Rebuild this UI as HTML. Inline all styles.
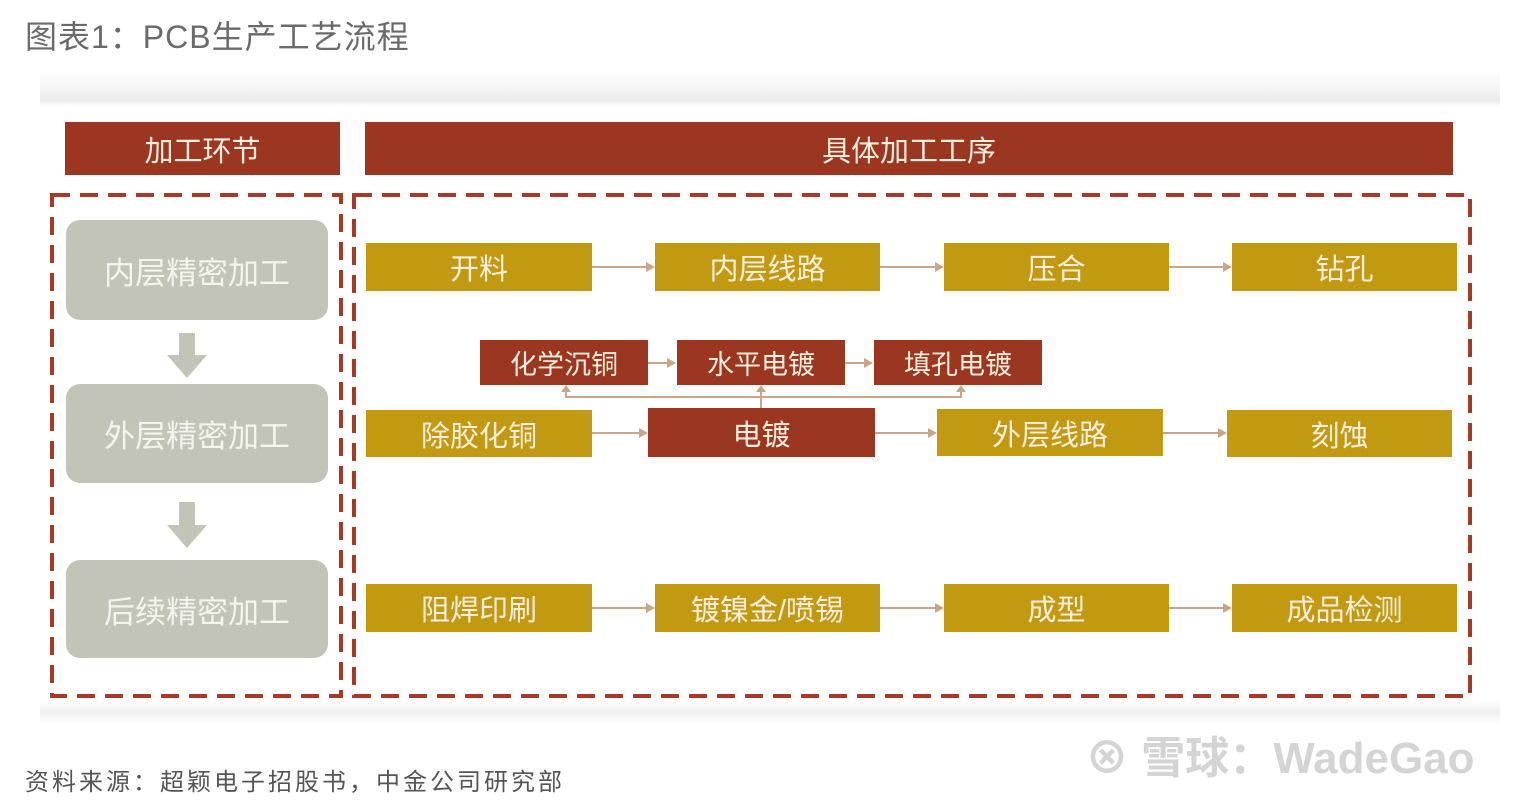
<!DOCTYPE html>
<html><head><meta charset="utf-8"><style>
body{margin:0;width:1523px;height:800px;background:#fff;position:relative;overflow:hidden;font-family:"Liberation Sans","Noto Sans CJK SC",sans-serif}
.a{position:absolute;display:flex;align-items:center;justify-content:center;color:#f6eedc;font-size:29px}
.r{background:#9b3620}.g{background:#c29a12}
.gr{background:#c3c4b8;border-radius:14px;color:#f4f4ee;font-size:31px}
.h{position:absolute;height:2px;background:#c9a58a}
.ar{position:absolute;width:0;height:0;border-top:5px solid transparent;border-bottom:5px solid transparent;border-left:9px solid #c9a58a}
</style></head><body>
<div style="position:absolute;left:25px;top:12px;font-size:32px;color:#6a6a6a;letter-spacing:1px">图表1：PCB生产工艺流程</div>
<div style="position:absolute;left:40px;top:70px;width:1460px;height:36px;background:linear-gradient(#fff,#ececec 85%,#fff)"></div>
<div style="position:absolute;left:40px;top:700px;width:1460px;height:24px;background:linear-gradient(#fff,#f0f0f0,#fff)"></div>
<div class="a r" style="left:65px;top:122px;width:275px;height:53px">加工环节</div>
<div class="a r" style="left:365px;top:122px;width:1088px;height:53px">具体加工工序</div>
<svg style="position:absolute;left:0;top:0" width="1523" height="800">
<rect x="52" y="195" width="289" height="501" fill="none" stroke="#a63a24" stroke-width="4" stroke-dasharray="18 10"/>
<rect x="354" y="195" width="1116" height="501" fill="none" stroke="#a63a24" stroke-width="4" stroke-dasharray="18 10"/>
</svg>
<div class="a gr" style="left:66px;top:220px;width:262px;height:100px">内层精密加工</div>
<div class="a gr" style="left:66px;top:384px;width:262px;height:99px">外层精密加工</div>
<div class="a gr" style="left:66px;top:560px;width:262px;height:98px">后续精密加工</div>
<svg style="position:absolute;left:0;top:0" width="1523" height="800">
<polygon points="179,333 195,333 195,355 207,355 187,378 167,355 179,355" fill="#c3c4b8"/>
<polygon points="179,502 195,502 195,525 207,525 187,548 167,525 179,525" fill="#c3c4b8"/>
</svg>
<div class="a g" style="left:366px;top:243px;width:226px;height:48px">开料</div>
<div class="a g" style="left:655px;top:243px;width:225px;height:48px">内层线路</div>
<div class="a g" style="left:944px;top:243px;width:225px;height:48px">压合</div>
<div class="a g" style="left:1232px;top:243px;width:225px;height:48px">钻孔</div>
<div class="h" style="left:592px;top:266px;width:55px"></div><div class="ar" style="left:646px;top:262px"></div>
<div class="h" style="left:880px;top:266px;width:56px"></div><div class="ar" style="left:935px;top:262px"></div>
<div class="h" style="left:1169px;top:266px;width:55px"></div><div class="ar" style="left:1223px;top:262px"></div>
<div class="a r" style="left:480px;top:340px;width:168px;height:45px;font-size:27px">化学沉铜</div>
<div class="a r" style="left:677px;top:340px;width:168px;height:45px;font-size:27px">水平电镀</div>
<div class="a r" style="left:874px;top:340px;width:168px;height:45px;font-size:27px">填孔电镀</div>
<div class="h" style="left:648px;top:362px;width:20px"></div><div class="ar" style="left:667px;top:358px"></div>
<div class="h" style="left:845px;top:362px;width:20px"></div><div class="ar" style="left:864px;top:358px"></div>
<div class="h" style="left:565px;top:396px;width:397px"></div>
<div style="position:absolute;left:760px;top:390px;width:2px;height:18px;background:#c9a58a"></div>
<svg style="position:absolute;left:0;top:0" width="1523" height="800">
<line x1="566" y1="397" x2="566" y2="388" stroke="#c9a58a" stroke-width="2"/>
<line x1="961" y1="397" x2="961" y2="388" stroke="#c9a58a" stroke-width="2"/>
<polygon points="561,392 571,392 566,385" fill="#c9a58a"/>
<polygon points="756,392 766,392 761,385" fill="#c9a58a"/>
<polygon points="956,392 966,392 961,385" fill="#c9a58a"/>
</svg>
<div class="a g" style="left:366px;top:410px;width:226px;height:47px">除胶化铜</div>
<div class="a r" style="left:648px;top:408px;width:227px;height:49px">电镀</div>
<div class="a g" style="left:937px;top:409px;width:226px;height:47px">外层线路</div>
<div class="a g" style="left:1227px;top:410px;width:225px;height:47px">刻蚀</div>
<div class="h" style="left:592px;top:432px;width:48px"></div><div class="ar" style="left:639px;top:428px"></div>
<div class="h" style="left:875px;top:432px;width:54px"></div><div class="ar" style="left:928px;top:428px"></div>
<div class="h" style="left:1163px;top:432px;width:56px"></div><div class="ar" style="left:1218px;top:428px"></div>
<div class="a g" style="left:366px;top:584px;width:226px;height:48px">阻焊印刷</div>
<div class="a g" style="left:655px;top:584px;width:225px;height:48px">镀镍金/喷锡</div>
<div class="a g" style="left:944px;top:584px;width:225px;height:48px">成型</div>
<div class="a g" style="left:1232px;top:584px;width:225px;height:48px">成品检测</div>
<div class="h" style="left:592px;top:607px;width:55px"></div><div class="ar" style="left:646px;top:603px"></div>
<div class="h" style="left:880px;top:607px;width:56px"></div><div class="ar" style="left:935px;top:603px"></div>
<div class="h" style="left:1169px;top:607px;width:55px"></div><div class="ar" style="left:1223px;top:603px"></div>
<div style="position:absolute;left:25px;top:762px;font-size:24px;color:#555;letter-spacing:3px">资料来源：超颖电子招股书，中金公司研究部</div>
<div style="position:absolute;left:1085px;top:722px;font-size:44px;color:#d4d4d4;font-weight:bold">⊗ 雪球：WadeGao</div>
</body></html>
